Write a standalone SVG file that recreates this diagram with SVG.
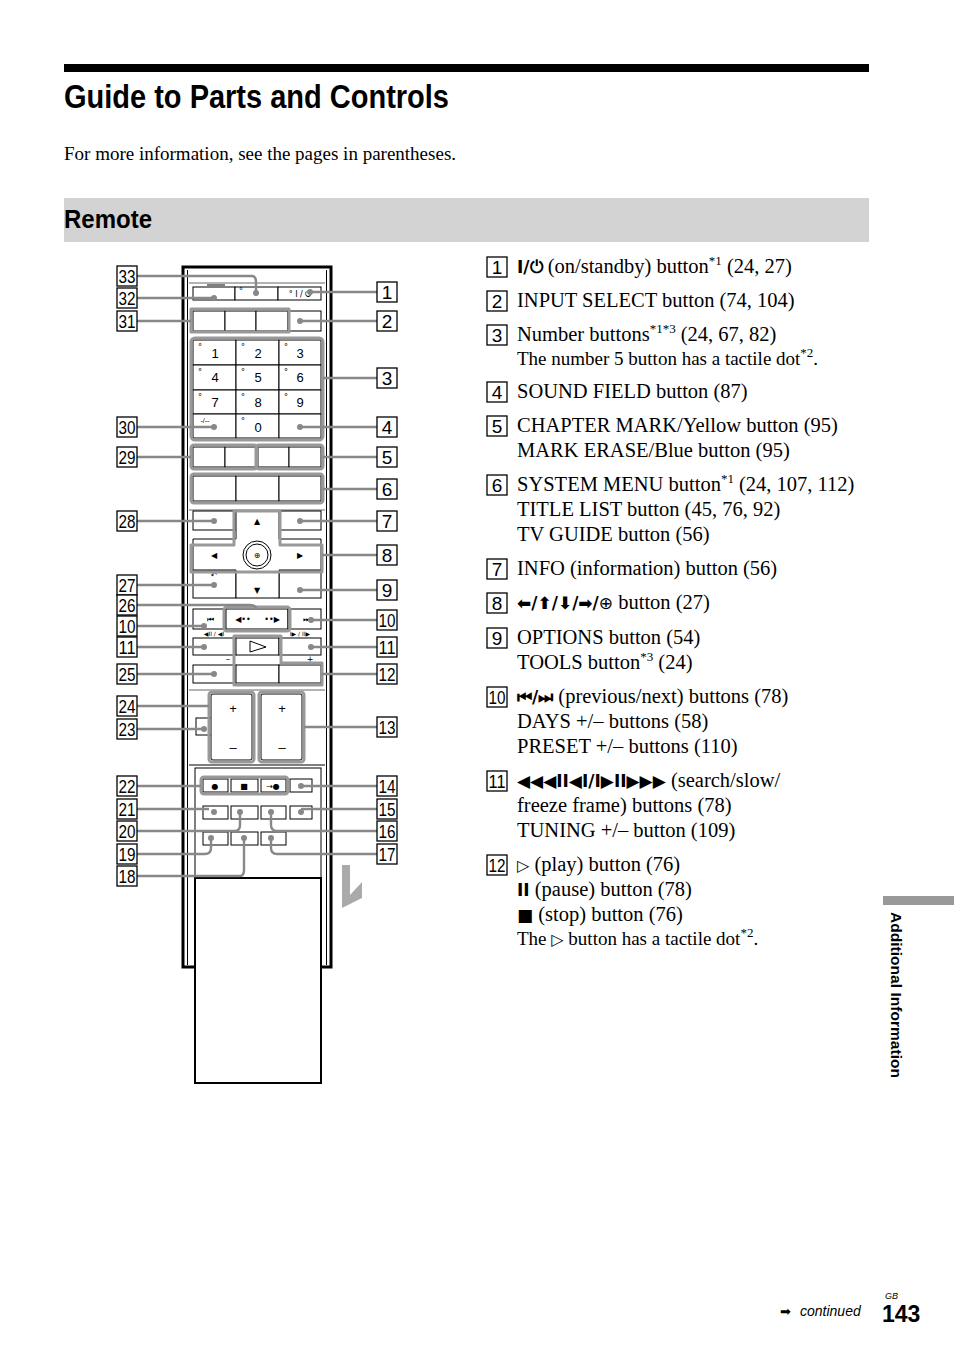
<svg xmlns="http://www.w3.org/2000/svg" width="954" height="1352" viewBox="0 0 954 1352">
<style>
.t{font-family:"Liberation Serif",serif;font-size:20.5px;fill:#000}
.s{font-family:"Liberation Serif",serif;font-size:19px;fill:#000}
.sup{font-size:13px}
.sym{font-family:"DejaVu Sans",sans-serif;font-size:17px;font-weight:bold}
.nb rect{fill:#fff;stroke:#000;stroke-width:1.3}
.nb text{font-family:"Liberation Sans",sans-serif;font-size:19px;text-anchor:middle}
.b{fill:#fff;stroke:#000;stroke-width:1}
.g{fill:none;stroke:#999;stroke-width:3;stroke-linejoin:round}
.ld{fill:none;stroke:#888;stroke-width:2.4}
.dot{fill:#888}
.k{font-family:"Liberation Sans",sans-serif;font-size:13px;text-anchor:middle}
.ks{font-family:"DejaVu Sans",sans-serif;font-size:8px;text-anchor:middle}
</style>
<rect width="954" height="1352" fill="#fff"/>
<rect x="64" y="64" width="805" height="8" fill="#000"/>
<text x="64" y="108" font-family="Liberation Sans Narrow,Liberation Sans,sans-serif" font-weight="bold" font-size="34" textLength="385" lengthAdjust="spacingAndGlyphs">Guide to Parts and Controls</text>
<text x="64" y="160" class="s">For more information, see the pages in parentheses.</text>
<rect x="64" y="198" width="805" height="44" fill="#d3d3d3"/>
<text x="64" y="228" font-family="Liberation Sans Narrow,Liberation Sans,sans-serif" font-weight="bold" font-size="25" textLength="88" lengthAdjust="spacingAndGlyphs">Remote</text>

<g id="remote">
<rect x="183" y="267" width="148" height="700" fill="#fff" stroke="#000" stroke-width="3"/>
<line x1="187.5" y1="270" x2="187.5" y2="965" stroke="#000"/>
<line x1="326.5" y1="270" x2="326.5" y2="965" stroke="#000"/>
<line x1="189" y1="283" x2="325" y2="283" stroke="#000" stroke-width="0.6"/>
<line x1="207" y1="285" x2="225" y2="285" stroke="#000"/>
<rect x="193" y="287" width="42" height="13" class="b"/><rect x="235" y="287" width="43" height="13" class="b"/><rect x="278" y="287" width="43" height="13" class="b"/>
<text x="300" y="297" class="ks" font-size="9">° I / ⏻</text><text x="241" y="294" class="ks">°</text>
<rect x="193" y="311" width="32" height="20" class="b"/><rect x="225" y="311" width="31" height="20" class="b"/><rect x="256" y="311" width="32" height="20" class="b"/><rect x="288" y="311" width="33" height="20" class="b"/>
<g class="b">
<rect x="193" y="340" width="43" height="25"/><rect x="236" y="340" width="43" height="25"/><rect x="279" y="340" width="42" height="25"/>
<rect x="193" y="365" width="43" height="25"/><rect x="236" y="365" width="43" height="25"/><rect x="279" y="365" width="42" height="25"/>
<rect x="193" y="390" width="43" height="24"/><rect x="236" y="390" width="43" height="24"/><rect x="279" y="390" width="42" height="24"/>
<rect x="193" y="414" width="43" height="24"/><rect x="236" y="414" width="43" height="24"/><rect x="279" y="414" width="42" height="24"/>
</g>
<g class="k"><text x="215" y="358">1</text><text x="258" y="358">2</text><text x="300" y="358">3</text><text x="215" y="382">4</text><text x="258" y="382">5</text><text x="300" y="382">6</text><text x="215" y="407">7</text><text x="258" y="407">8</text><text x="300" y="407">9</text><text x="258" y="432">0</text><text x="205" y="423" font-size="7">-/--</text></g>
<g class="ks"><text x="200" y="350">°</text><text x="243" y="350">°</text><text x="286" y="350">°</text><text x="200" y="375">°</text><text x="243" y="375">°</text><text x="286" y="375">°</text><text x="200" y="400">°</text><text x="243" y="400">°</text><text x="286" y="400">°</text><text x="243" y="424">°</text><text x="200" y="487">°</text><text x="200" y="584">°</text></g>
<rect x="193" y="447" width="32" height="20" class="b"/><rect x="225" y="447" width="31" height="20" class="b"/><rect x="258" y="447" width="31" height="20" class="b"/><rect x="289" y="447" width="32" height="20" class="b"/>
<rect x="193" y="476" width="43" height="25" class="b"/><rect x="236" y="476" width="43" height="25" class="b"/><rect x="279" y="476" width="42" height="25" class="b"/>
<line x1="189" y1="510" x2="325" y2="510" stroke="#000" stroke-width="0.6"/>
<rect x="193" y="511" width="43" height="19" class="b"/><rect x="279" y="511" width="42" height="19" class="b"/>
<rect x="193" y="570" width="43" height="28" class="b"/><rect x="279" y="570" width="42" height="28" class="b"/>
<path d="M236 511H279V539H321V570H279V598H236V570H193V539H236Z" class="b"/>
<circle cx="257" cy="555" r="14" class="b"/><circle cx="257" cy="555" r="11" class="b"/>
<text x="257" y="558" class="ks">⊕</text>
<g class="ks" font-size="9"><text x="257" y="524">▲</text><text x="257" y="593">▼</text><text x="214" y="558">◀</text><text x="300" y="558">▶</text><text x="214" y="578">↶</text></g>
<rect x="193" y="609" width="33" height="20" class="b"/><rect x="226" y="609" width="62" height="20" class="b"/><rect x="288" y="609" width="33" height="20" class="b"/>
<g class="ks"><text x="210" y="622">⏮</text><text x="243" y="622">◀••</text><text x="272" y="622">••▶</text><text x="306" y="622">⏭</text><text x="214" y="636" font-size="6">◀II / ◀I</text><text x="300" y="636" font-size="6">I▶ / II▶</text><text x="214" y="651">◀◀</text><text x="300" y="651">▶▶</text><text x="228" y="662">–</text><text x="310" y="662">+</text><text x="257" y="678">II</text><text x="300" y="678">■</text></g>
<rect x="193" y="638" width="43" height="17" class="b"/><rect x="236" y="638" width="43" height="17" class="b"/><rect x="279" y="638" width="42" height="17" class="b"/>
<path d="M250 641L266 647L250 652Z" fill="none" stroke="#000"/>
<rect x="193" y="665" width="43" height="18" class="b"/><rect x="236" y="665" width="43" height="18" class="b"/><rect x="279" y="665" width="42" height="18" class="b"/>
<line x1="189" y1="690" x2="325" y2="690" stroke="#000" stroke-width="0.6"/>
<rect x="196" y="718" width="23" height="17" class="b"/>
<rect x="211" y="694" width="41" height="66" rx="2" class="b"/><rect x="261" y="694" width="41" height="66" rx="2" class="b"/>
<text x="233" y="713" class="k" font-size="18">+</text><text x="233" y="752" class="k" font-size="18">–</text><text x="282" y="713" class="k" font-size="18">+</text><text x="282" y="752" class="k" font-size="18">–</text>
<line x1="189" y1="765" x2="325" y2="765" stroke="#000"/>
<rect x="195" y="768" width="126" height="110" fill="none" stroke="#000"/>
<g class="b"><rect x="203" y="779" width="25" height="13"/><rect x="231" y="779" width="27" height="13"/><rect x="261" y="779" width="25" height="13"/><rect x="290" y="779" width="22" height="13"/>
<rect x="203" y="806" width="25" height="13"/><rect x="231" y="806" width="27" height="13"/><rect x="261" y="806" width="25" height="13"/><rect x="290" y="806" width="22" height="13"/>
<rect x="203" y="832" width="25" height="13"/><rect x="231" y="832" width="27" height="13"/><rect x="261" y="832" width="25" height="13"/></g>
<g class="ks"><text x="215" y="789">●</text><text x="244" y="789">■</text><text x="273" y="789">→●</text></g>
<rect x="195" y="878" width="126" height="205" fill="#fff" stroke="#000" stroke-width="2"/>
<path d="M342 865H350V895L362 882V898L342 908Z" fill="#aaa"/>
</g>

<g id="groups">
<path class="g" d="M191 309H289V332H191Z"/>
<rect x="191" y="338" width="132" height="102" rx="4" class="g"/>
<rect x="191" y="445" width="66" height="24" rx="3" class="g"/><rect x="256" y="445" width="67" height="24" rx="3" class="g"/>
<rect x="191" y="474" width="132" height="29" rx="3" class="g"/>
<path class="g" d="M234 511V545H191V572H322V545H280V511Z"/>
<rect x="224" y="607" width="66" height="24" rx="3" class="g"/>
<path class="g" d="M234 636H281V663H322V685H234Z"/>
<rect x="209" y="692" width="45" height="70" rx="3" class="g"/><rect x="259" y="692" width="45" height="70" rx="3" class="g"/>
<rect x="201" y="777" width="87" height="17" rx="3" class="g"/>
</g>

<g id="connectors">
<g class="ld">
<path d="M137 276H252Q256 276 256 282V292"/><path d="M137 298H214"/><path d="M137 321H191"/><path d="M137 427H214"/><path d="M137 457H191"/><path d="M137 521H214"/><path d="M137 585H214"/><path d="M137 605H250Q256 605 256 609"/><path d="M137 626H204"/><path d="M137 647H204"/><path d="M137 674H214"/><path d="M137 706H209"/><path d="M137 729H204"/><path d="M137 786H201"/><path d="M137 809H209"/><path d="M137 831H235Q240 831 240 825V812"/><path d="M137 854H205Q211 854 211 848V838"/><path d="M137 876H240Q244 876 244 870V838"/>
<path d="M377 292H310"/><path d="M377 321H300"/><path d="M377 378H323"/><path d="M377 427H300"/><path d="M377 457H323"/><path d="M377 489H323"/><path d="M377 521H300"/><path d="M377 555H322"/><path d="M377 590H300"/><path d="M377 620H311"/><path d="M377 647H311"/><path d="M377 674H322"/><path d="M377 727H304"/><path d="M377 786H301"/><path d="M377 809H301"/><path d="M377 831H277Q271 831 271 825V812"/><path d="M377 854H277Q271 854 271 848V838"/>
</g>
<g class="dot">
<circle cx="256" cy="293" r="3"/><circle cx="214" cy="298" r="3"/><circle cx="214" cy="427" r="3"/><circle cx="214" cy="521" r="3"/><circle cx="214" cy="585" r="3"/><circle cx="204" cy="626" r="3"/><circle cx="204" cy="647" r="3"/><circle cx="214" cy="674" r="3"/><circle cx="204" cy="729" r="3"/><circle cx="214" cy="812" r="3"/><circle cx="240" cy="812" r="3"/><circle cx="211" cy="838" r="3"/><circle cx="244" cy="838" r="3"/>
<circle cx="310" cy="292" r="3"/><circle cx="300" cy="321" r="3"/><circle cx="300" cy="427" r="3"/><circle cx="300" cy="521" r="3"/><circle cx="300" cy="590" r="3"/><circle cx="311" cy="620" r="3"/><circle cx="311" cy="647" r="3"/><circle cx="301" cy="786" r="3"/><circle cx="301" cy="812" r="3"/><circle cx="271" cy="812" r="3"/><circle cx="271" cy="838" r="3"/>
</g>
</g>

<g id="labels-left" class="nb">
<g><rect x="117" y="266" width="20" height="20"/><text x="127" y="283" textLength="17" lengthAdjust="spacingAndGlyphs">33</text></g>
<g><rect x="117" y="288" width="20" height="20"/><text x="127" y="305" textLength="17" lengthAdjust="spacingAndGlyphs">32</text></g>
<g><rect x="117" y="311" width="20" height="20"/><text x="127" y="328" textLength="17" lengthAdjust="spacingAndGlyphs">31</text></g>
<g><rect x="117" y="417" width="20" height="20"/><text x="127" y="434" textLength="17" lengthAdjust="spacingAndGlyphs">30</text></g>
<g><rect x="117" y="447" width="20" height="20"/><text x="127" y="464" textLength="17" lengthAdjust="spacingAndGlyphs">29</text></g>
<g><rect x="117" y="511" width="20" height="20"/><text x="127" y="528" textLength="17" lengthAdjust="spacingAndGlyphs">28</text></g>
<g><rect x="117" y="575" width="20" height="20"/><text x="127" y="592" textLength="17" lengthAdjust="spacingAndGlyphs">27</text></g>
<g><rect x="117" y="595" width="20" height="20"/><text x="127" y="612" textLength="17" lengthAdjust="spacingAndGlyphs">26</text></g>
<g><rect x="117" y="616" width="20" height="20"/><text x="127" y="633" textLength="17" lengthAdjust="spacingAndGlyphs">10</text></g>
<g><rect x="117" y="637" width="20" height="20"/><text x="127" y="654" textLength="17" lengthAdjust="spacingAndGlyphs">11</text></g>
<g><rect x="117" y="664" width="20" height="20"/><text x="127" y="681" textLength="17" lengthAdjust="spacingAndGlyphs">25</text></g>
<g><rect x="117" y="696" width="20" height="20"/><text x="127" y="713" textLength="17" lengthAdjust="spacingAndGlyphs">24</text></g>
<g><rect x="117" y="719" width="20" height="20"/><text x="127" y="736" textLength="17" lengthAdjust="spacingAndGlyphs">23</text></g>
<g><rect x="117" y="776" width="20" height="20"/><text x="127" y="793" textLength="17" lengthAdjust="spacingAndGlyphs">22</text></g>
<g><rect x="117" y="799" width="20" height="20"/><text x="127" y="816" textLength="17" lengthAdjust="spacingAndGlyphs">21</text></g>
<g><rect x="117" y="821" width="20" height="20"/><text x="127" y="838" textLength="17" lengthAdjust="spacingAndGlyphs">20</text></g>
<g><rect x="117" y="844" width="20" height="20"/><text x="127" y="861" textLength="17" lengthAdjust="spacingAndGlyphs">19</text></g>
<g><rect x="117" y="866" width="20" height="20"/><text x="127" y="883" textLength="17" lengthAdjust="spacingAndGlyphs">18</text></g>
</g>
<g id="labels-right" class="nb">
<g><rect x="377" y="282" width="20" height="20"/><text x="387" y="299">1</text></g>
<g><rect x="377" y="311" width="20" height="20"/><text x="387" y="328">2</text></g>
<g><rect x="377" y="368" width="20" height="20"/><text x="387" y="385">3</text></g>
<g><rect x="377" y="417" width="20" height="20"/><text x="387" y="434">4</text></g>
<g><rect x="377" y="447" width="20" height="20"/><text x="387" y="464">5</text></g>
<g><rect x="377" y="479" width="20" height="20"/><text x="387" y="496">6</text></g>
<g><rect x="377" y="511" width="20" height="20"/><text x="387" y="528">7</text></g>
<g><rect x="377" y="545" width="20" height="20"/><text x="387" y="562">8</text></g>
<g><rect x="377" y="580" width="20" height="20"/><text x="387" y="597">9</text></g>
<g><rect x="377" y="610" width="20" height="20"/><text x="387" y="627" textLength="17" lengthAdjust="spacingAndGlyphs">10</text></g>
<g><rect x="377" y="637" width="20" height="20"/><text x="387" y="654" textLength="17" lengthAdjust="spacingAndGlyphs">11</text></g>
<g><rect x="377" y="664" width="20" height="20"/><text x="387" y="681" textLength="17" lengthAdjust="spacingAndGlyphs">12</text></g>
<g><rect x="377" y="717" width="20" height="20"/><text x="387" y="734" textLength="17" lengthAdjust="spacingAndGlyphs">13</text></g>
<g><rect x="377" y="776" width="20" height="20"/><text x="387" y="793" textLength="17" lengthAdjust="spacingAndGlyphs">14</text></g>
<g><rect x="377" y="799" width="20" height="20"/><text x="387" y="816" textLength="17" lengthAdjust="spacingAndGlyphs">15</text></g>
<g><rect x="377" y="821" width="20" height="20"/><text x="387" y="838" textLength="17" lengthAdjust="spacingAndGlyphs">16</text></g>
<g><rect x="377" y="844" width="20" height="20"/><text x="387" y="861" textLength="17" lengthAdjust="spacingAndGlyphs">17</text></g>
</g>

<g id="list">
<g class="nb">
<g><rect x="487" y="257" width="20" height="20"/><text x="497" y="274">1</text></g>
<g><rect x="487" y="291" width="20" height="20"/><text x="497" y="308">2</text></g>
<g><rect x="487" y="325" width="20" height="20"/><text x="497" y="342">3</text></g>
<g><rect x="487" y="382" width="20" height="20"/><text x="497" y="399">4</text></g>
<g><rect x="487" y="416" width="20" height="20"/><text x="497" y="433">5</text></g>
<g><rect x="487" y="475" width="20" height="20"/><text x="497" y="492">6</text></g>
<g><rect x="487" y="559" width="20" height="20"/><text x="497" y="576">7</text></g>
<g><rect x="487" y="593" width="20" height="20"/><text x="497" y="610">8</text></g>
<g><rect x="487" y="628" width="20" height="20"/><text x="497" y="645">9</text></g>
<g><rect x="487" y="687" width="20" height="20"/><text x="497" y="704" textLength="17" lengthAdjust="spacingAndGlyphs">10</text></g>
<g><rect x="487" y="771" width="20" height="20"/><text x="497" y="788" textLength="17" lengthAdjust="spacingAndGlyphs">11</text></g>
<g><rect x="487" y="855" width="20" height="20"/><text x="497" y="872" textLength="17" lengthAdjust="spacingAndGlyphs">12</text></g>
</g>
<text class="t" x="517" y="273"><tspan class="sym">I/⏻</tspan> (on/standby) button<tspan class="sup" dy="-8">*1</tspan><tspan dy="8"> (24, 27)</tspan></text>
<text class="t" x="517" y="307">INPUT SELECT button (74, 104)</text>
<text class="t" x="517" y="341">Number buttons<tspan class="sup" dy="-8">*1*3</tspan><tspan dy="8"> (24, 67, 82)</tspan></text>
<text class="s" x="517" y="365">The number 5 button has a tactile dot<tspan class="sup" dy="-8">*2</tspan><tspan dy="8">.</tspan></text>
<text class="t" x="517" y="398">SOUND FIELD button (87)</text>
<text class="t" x="517" y="432">CHAPTER MARK/Yellow button (95)</text>
<text class="t" x="517" y="457">MARK ERASE/Blue button (95)</text>
<text class="t" x="517" y="491">SYSTEM MENU button<tspan class="sup" dy="-8">*1</tspan><tspan dy="8"> (24, 107, 112)</tspan></text>
<text class="t" x="517" y="516">TITLE LIST button (45, 76, 92)</text>
<text class="t" x="517" y="541">TV GUIDE button (56)</text>
<text class="t" x="517" y="575">INFO (information) button (56)</text>
<text class="t" x="517" y="609"><tspan class="sym">⬅/⬆/⬇/➡/</tspan><tspan font-family="DejaVu Sans" font-size="17">⊕</tspan> button (27)</text>
<text class="t" x="517" y="644">OPTIONS button (54)</text>
<text class="t" x="517" y="669">TOOLS button<tspan class="sup" dy="-8">*3</tspan><tspan dy="8"> (24)</tspan></text>
<text class="t" x="517" y="703"><tspan class="sym">⏮/⏭</tspan> (previous/next) buttons (78)</text>
<text class="t" x="517" y="728">DAYS +/– buttons (58)</text>
<text class="t" x="517" y="753">PRESET +/– buttons (110)</text>
<text class="t" x="517" y="787"><tspan class="sym" font-size="14">◀◀◀II◀I/I▶II▶▶▶</tspan> (search/slow/</text>
<text class="t" x="517" y="812">freeze frame) buttons (78)</text>
<text class="t" x="517" y="837">TUNING +/– button (109)</text>
<text class="t" x="517" y="871"><tspan font-family="DejaVu Sans" font-size="16">▷</tspan> (play) button (76)</text>
<text class="t" x="517" y="896"><tspan class="sym" font-size="14">II</tspan> (pause) button (78)</text>
<text class="t" x="517" y="921"><tspan class="sym" font-size="15">■</tspan> (stop) button (76)</text>
<text class="s" x="517" y="945">The <tspan font-family="DejaVu Sans" font-size="16">▷</tspan> button has a tactile dot<tspan class="sup" dy="-8">*2</tspan><tspan dy="8">.</tspan></text>
</g>

<rect x="883" y="896" width="71" height="9" fill="#999"/>
<text transform="translate(891 912) rotate(90)" font-family="Liberation Sans Narrow,Liberation Sans,sans-serif" font-weight="bold" font-size="14" textLength="166" lengthAdjust="spacingAndGlyphs">Additional Information</text>
<text x="780" y="1316" font-family="DejaVu Sans,sans-serif" font-size="13">➡</text>
<text x="800" y="1316" font-family="Liberation Sans,sans-serif" font-style="italic" font-size="14">continued</text>
<text x="885" y="1299" font-family="Liberation Sans,sans-serif" font-style="italic" font-size="9">GB</text>
<text x="882" y="1322" font-family="Liberation Sans Narrow,Liberation Sans,sans-serif" font-weight="bold" font-size="23">143</text>
</svg>
